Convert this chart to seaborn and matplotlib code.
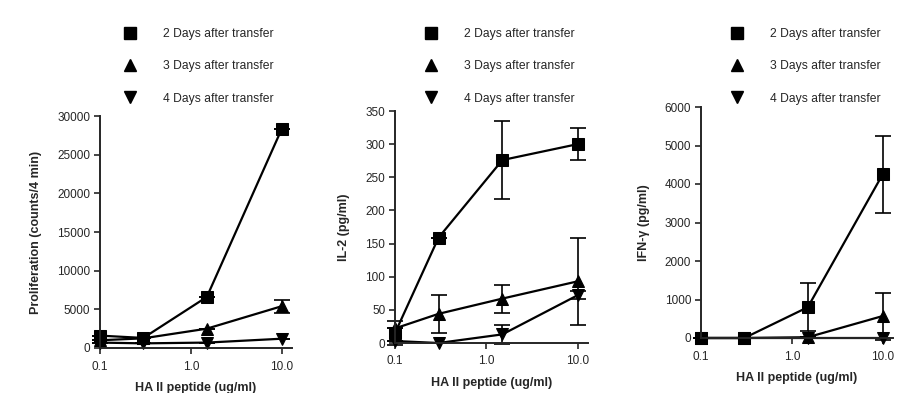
import matplotlib
matplotlib.use("Agg")
import matplotlib.pyplot as plt
from matplotlib.lines import Line2D
from matplotlib.ticker import FixedLocator, NullLocator
import seaborn as sns
import pandas as pd

# peptide doses (ug/ml)
doses = [0.1, 0.3, 1.5, 10.0]
days = ["2 Days after transfer", "3 Days after transfer", "4 Days after transfer"]
day_markers = {days[0]: "s", days[1]: "^", days[2]: "v"}

# Proliferation (counts/4 min)
prolif_2d = [1600, 1300, 6600, 28300]
prolif_3d = [1000, 1250, 2500, 5400]
prolif_4d = [700, 600, 700, 1200]
prolif_err_2d = [0, 0, 0, 0]
prolif_err_3d = [0, 0, 0, 850]
prolif_err_4d = [0, 0, 0, 0]

# IL-2 (pg/ml)
il2_2d = [15, 159, 276, 300]
il2_3d = [22, 44, 67, 93]
il2_4d = [3, 0, 13, 72]
il2_err_2d = [18, 0, 59, 24]
il2_err_3d = [0, 29, 21, 66]
il2_err_4d = [0, 0, 14, 6]

# IFN-gamma (pg/ml)
ifn_2d = [0, 0, 800, 4250]
ifn_3d = [0, 0, 20, 570]
ifn_4d = [0, 0, 0, 0]
ifn_err_2d = [0, 0, 630, 1000]
ifn_err_3d = [0, 0, 0, 610]
ifn_err_4d = [0, 0, 0, 0]

sns.set_style("ticks")
plt.rcParams["font.family"] = ["Liberation Sans", "DejaVu Sans"]


def long_df(series):
    rows = []
    for day, vals in zip(days, series):
        for d, v in zip(doses, vals):
            rows.append({"dose": d, "value": v, "day": day})
    return pd.DataFrame(rows)


def plot_panel(ax, series, errors, ylabel, yticks, legend_xy):
    df = long_df(series)
    # error bars first so lines/markers sit on top
    for vals, errs in zip(series, errors):
        ax.errorbar(doses, vals, yerr=errs, fmt="none", ecolor="black",
                    elinewidth=1.2, capsize=6, capthick=1.2, clip_on=False)
    sns.lineplot(data=df, x="dose", y="value", style="day", markers=day_markers,
                 dashes=False, color="black", linewidth=1.6, markersize=8.5,
                 markeredgecolor="black", errorbar=None, legend=False,
                 clip_on=False, ax=ax)

    ax.set_xscale("log")
    ax.set_xlim(0.1, 13)
    ax.xaxis.set_major_locator(FixedLocator([0.1, 1.0, 10.0]))
    ax.xaxis.set_minor_locator(NullLocator())
    ax.set_xticklabels(["0.1", "1.0", "10.0"])
    ax.set_ylim(0, yticks[-1])
    ax.set_yticks(yticks)
    ax.tick_params(labelsize=8.5, length=4, width=1.2)
    ax.tick_params(axis="x", pad=5)
    ax.tick_params(axis="y", pad=3)
    for s in ["left", "bottom"]:
        ax.spines[s].set_linewidth(1.4)
    sns.despine(ax=ax)
    ax.set_xlabel("HA II peptide (ug/ml)", fontsize=9, fontweight="bold", labelpad=7)
    ax.set_ylabel(ylabel, fontsize=9, fontweight="bold", labelpad=11)

    handles = [Line2D([], [], color="black", marker=day_markers[d], linestyle="none",
                      markersize=9) for d in days]
    ax.legend(handles, days, loc="upper left", bbox_to_anchor=legend_xy,
              bbox_transform=ax.figure.transFigure, frameon=False, fontsize=8.7,
              handlelength=1.0, handletextpad=2.2, labelspacing=1.68,
              borderpad=0, borderaxespad=0)


fig = plt.figure(figsize=(9.08, 3.93), dpi=100)
W, H = 908, 393
ax1 = fig.add_axes([100 / W, 45 / H, 192 / W, 232 / H])
ax2 = fig.add_axes([395 / W, 50 / H, 193 / W, 232 / H])
ax3 = fig.add_axes([701 / W, 55 / H, 192 / W, 231 / H])

plot_panel(ax1, [prolif_2d, prolif_3d, prolif_4d],
           [prolif_err_2d, prolif_err_3d, prolif_err_4d],
           "Proliferation (counts/4 min)", [0, 5000, 10000, 15000, 20000, 25000, 30000],
           (124 / W, 1 - 28 / H))
plot_panel(ax2, [il2_2d, il2_3d, il2_4d],
           [il2_err_2d, il2_err_3d, il2_err_4d],
           "IL-2 (pg/ml)", [0, 50, 100, 150, 200, 250, 300, 350],
           (425 / W, 1 - 28 / H))
plot_panel(ax3, [ifn_2d, ifn_3d, ifn_4d],
           [ifn_err_2d, ifn_err_3d, ifn_err_4d],
           "IFN-γ (pg/ml)", [0, 1000, 2000, 3000, 4000, 5000, 6000],
           (731 / W, 1 - 28 / H))

fig.savefig("out.png", dpi=100)
